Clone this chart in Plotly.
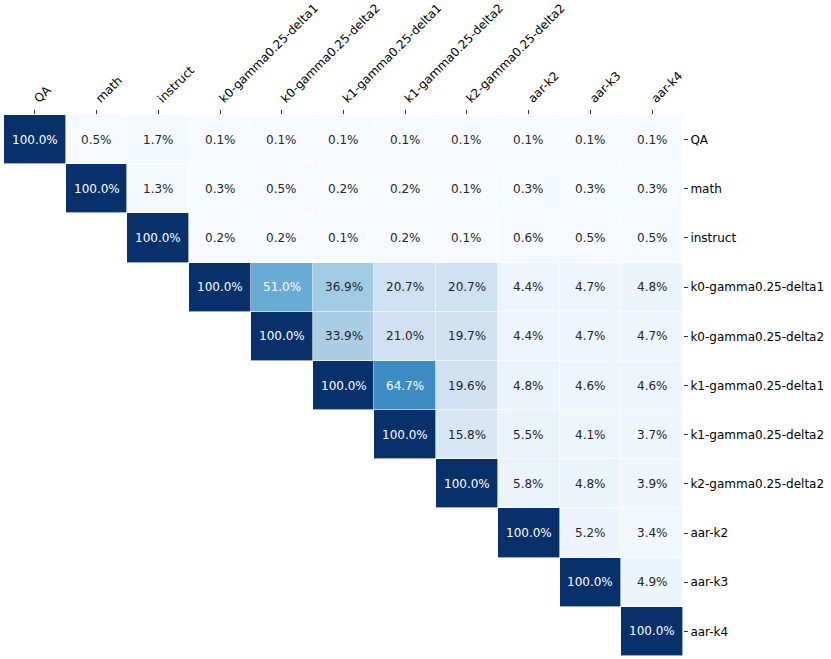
import numpy as np
import plotly.graph_objects as go
from plotly.colors import sequential

labels = ["QA", "math", "instruct", "k0-gamma0.25-delta1", "k0-gamma0.25-delta2",
          "k1-gamma0.25-delta1", "k1-gamma0.25-delta2", "k2-gamma0.25-delta2",
          "aar-k2", "aar-k3", "aar-k4"]

row_qa = [100.0, 0.5, 1.7, 0.1, 0.1, 0.1, 0.1, 0.1, 0.1, 0.1, 0.1]
row_math = [100.0, 1.3, 0.3, 0.5, 0.2, 0.2, 0.1, 0.3, 0.3, 0.3]
row_instruct = [100.0, 0.2, 0.2, 0.1, 0.2, 0.1, 0.6, 0.5, 0.5]
row_k0d1 = [100.0, 51.0, 36.9, 20.7, 20.7, 4.4, 4.7, 4.8]
row_k0d2 = [100.0, 33.9, 21.0, 19.7, 4.4, 4.7, 4.7]
row_k1d1 = [100.0, 64.7, 19.6, 4.8, 4.6, 4.6]
row_k1d2 = [100.0, 15.8, 5.5, 4.1, 3.7]
row_k2d2 = [100.0, 5.8, 4.8, 3.9]
row_aark2 = [100.0, 5.2, 3.4]
row_aark3 = [100.0, 4.9]
row_aark4 = [100.0]

rows = [row_qa, row_math, row_instruct, row_k0d1, row_k0d2, row_k1d1,
        row_k1d2, row_k2d2, row_aark2, row_aark3, row_aark4]

n = len(labels)
z = np.full((n, n), np.nan)
for i, r in enumerate(rows):
    z[i, i:] = r

blues = sequential.Blues
cs = [[k / (len(blues) - 1), c] for k, c in enumerate(blues)]

fig = go.Figure(go.Heatmap(
    z=z, x=labels, y=labels, colorscale=cs, zmin=0, zmax=100,
    showscale=False, xgap=0.6, ygap=0.6, hoverongaps=False,
))

annotations = []
for i in range(n):
    for j in range(n):
        v = z[i, j]
        if np.isnan(v):
            continue
        annotations.append(dict(
            x=labels[j], y=labels[i], text=f"{v:.1f}%", showarrow=False,
            font=dict(family="DejaVu Sans", size=12,
                      color="white" if v > 45 else "#262626"),
        ))

fig.update_layout(
    width=831, height=659,
    margin=dict(l=4, r=148, t=115, b=3),
    paper_bgcolor="white", plot_bgcolor="white",
    annotations=annotations,
    font=dict(family="DejaVu Sans", size=12, color="black"),
    xaxis=dict(side="top", tickangle=-45, ticks="outside", ticklen=4,
               tickcolor="#333", showgrid=False, zeroline=False,
               automargin=False, showline=False),
    yaxis=dict(side="right", autorange="reversed", ticks="outside", ticklen=4,
               tickcolor="#333", showgrid=False, zeroline=False,
               automargin=False, showline=False),
)

fig.write_html("out.html", config={"displayModeBar": False},
               post_script="document.body.style.margin='0';")
